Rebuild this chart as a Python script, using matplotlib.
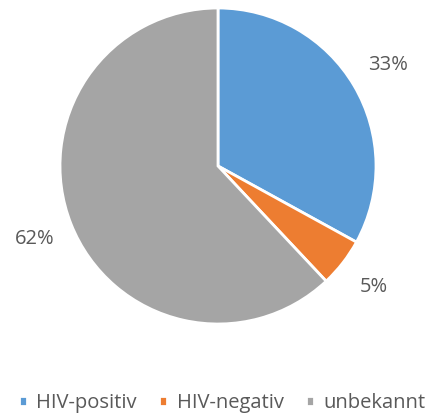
import matplotlib.pyplot as plt

plt.rcParams['font.family'] = ['Open Sans', 'DejaVu Sans']

labels = ['HIV-positiv', 'HIV-negativ', 'unbekannt']
values = [33, 5, 62]
colors = ['#5B9BD5', '#ED7D31', '#A5A5A5']

fig = plt.figure(figsize=(4.33, 4.18), dpi=100)
# pie centre ~ (218,166) px, radius ~158 px
ax = fig.add_axes([(218 - 158) / 433, (418 - 166 - 158) / 418, 316 / 433, 316 / 418])
wedges, texts, autotexts = ax.pie(values, colors=colors, startangle=90, counterclock=False,
                                  autopct='%1.0f%%', pctdistance=1.25, radius=1,
                                  wedgeprops=dict(edgecolor='white', linewidth=2),
                                  textprops=dict(color='#595959', fontsize=14.5))
ax.set_xlim(-1, 1)
ax.set_ylim(-1, 1)

fig.legend(wedges, labels, loc='center', bbox_to_anchor=(222 / 433, (418 - 403) / 418),
           ncol=3, frameon=False, handlelength=0.42, handleheight=0.42, handletextpad=0.45,
           columnspacing=1.1, fontsize=14.5, labelcolor='#595959')

plt.savefig('out.png')
plt.close()
